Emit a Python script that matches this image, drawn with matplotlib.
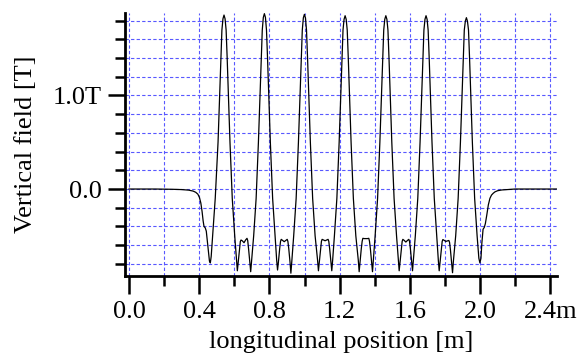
"""Wiggler vertical field profile along the beam axis."""

import matplotlib

matplotlib.use("Agg")
import matplotlib.pyplot as plt  # noqa: E402
from matplotlib.ticker import FixedLocator, MultipleLocator  # noqa: E402

plt.rcParams["font.family"] = ["Liberation Serif", "DejaVu Serif"]

# entrance fringe field (m, T)
entry_x = [0.000, 0.150, 0.250, 0.300, 0.340, 0.365, 0.380, 0.392, 0.401, 0.409,
           0.416, 0.422, 0.427, 0.434, 0.440, 0.446, 0.452, 0.458, 0.463, 0.468,
           0.474, 0.480]
entry_b = [0.0, 0.0, -0.003, -0.006, -0.012, -0.022, -0.035, -0.055, -0.09, -0.15,
           -0.24, -0.34, -0.40, -0.415, -0.45, -0.56, -0.68, -0.77, -0.79, -0.72,
           -0.56, -0.40]

# periodic core: 7 positive poles, 6 split negative poles
core_x = [
    0.491, 0.507, 0.516, 0.523, 0.529, 0.535, 0.541, 0.547, 0.553, 0.559, 0.566, 0.575, 0.588, 0.602,
    0.612, 0.617, 0.622, 0.629, 0.634, 0.638, 0.646, 0.655, 0.664, 0.672, 0.676, 0.681, 0.688, 0.693, 0.698,
    0.710, 0.724, 0.737, 0.746, 0.753, 0.759, 0.765, 0.771, 0.777, 0.783, 0.789, 0.796, 0.805, 0.818, 0.832,
    0.841, 0.846, 0.851, 0.858, 0.863, 0.867, 0.875, 0.884, 0.893, 0.901, 0.905, 0.910, 0.917, 0.922, 0.927,
    0.938, 0.952, 0.965, 0.974, 0.981, 0.987, 0.993, 0.999, 1.005, 1.011, 1.017, 1.024, 1.033, 1.046, 1.060,
    1.074, 1.079, 1.084, 1.091, 1.096, 1.100, 1.108, 1.117, 1.126, 1.134, 1.138, 1.143, 1.150, 1.155, 1.160,
    1.170, 1.184, 1.197, 1.206, 1.213, 1.219, 1.225, 1.231, 1.237, 1.243, 1.249, 1.256, 1.265, 1.278, 1.292,
    1.306, 1.311, 1.316, 1.323, 1.328, 1.332, 1.340, 1.349, 1.358, 1.366, 1.370, 1.375, 1.382, 1.387, 1.392,
    1.402, 1.416, 1.429, 1.438, 1.445, 1.451, 1.457, 1.463, 1.469, 1.475, 1.481, 1.488, 1.497, 1.510, 1.524,
    1.534, 1.539, 1.544, 1.551, 1.556, 1.560, 1.568, 1.577, 1.586, 1.594, 1.598, 1.603, 1.610, 1.615, 1.620,
    1.631, 1.645, 1.658, 1.667, 1.674, 1.680, 1.686, 1.692, 1.698, 1.704, 1.710, 1.717, 1.726, 1.739, 1.753,
    1.762, 1.767, 1.772, 1.779, 1.784, 1.788, 1.796, 1.805, 1.814, 1.822, 1.826, 1.831, 1.838, 1.843, 1.848,
    1.861, 1.875, 1.888, 1.897, 1.904, 1.910, 1.916, 1.922, 1.928, 1.934, 1.940, 1.947, 1.956, 1.969, 1.983,
]
core_b = [
    -0.10, 0.50, 1.00, 1.40, 1.70, 1.82, 1.86, 1.82, 1.70, 1.40, 1.00, 0.50, -0.10, -0.50,
    -0.76, -0.874, -0.78, -0.64, -0.56, -0.545, -0.555, -0.574, -0.545, -0.527, -0.55, -0.64, -0.78, -0.884, -0.77,
    -0.50, -0.10, 0.50, 1.00, 1.40, 1.70, 1.835, 1.875, 1.835, 1.70, 1.40, 1.00, 0.50, -0.10, -0.50,
    -0.76, -0.866, -0.78, -0.64, -0.56, -0.538, -0.55, -0.563, -0.55, -0.538, -0.56, -0.64, -0.78, -0.90, -0.78,
    -0.50, -0.10, 0.50, 1.00, 1.40, 1.70, 1.83, 1.868, 1.83, 1.70, 1.40, 1.00, 0.50, -0.10, -0.50,
    -0.76, -0.874, -0.78, -0.64, -0.56, -0.538, -0.545, -0.553, -0.545, -0.538, -0.56, -0.64, -0.78, -0.874, -0.76,
    -0.50, -0.10, 0.50, 1.00, 1.40, 1.70, 1.815, 1.853, 1.815, 1.70, 1.40, 1.00, 0.50, -0.10, -0.50,
    -0.76, -0.884, -0.78, -0.64, -0.56, -0.527, -0.53, -0.53, -0.53, -0.527, -0.56, -0.64, -0.78, -0.884, -0.76,
    -0.50, -0.10, 0.50, 1.00, 1.40, 1.70, 1.815, 1.853, 1.815, 1.70, 1.40, 1.00, 0.50, -0.10, -0.50,
    -0.76, -0.874, -0.78, -0.64, -0.56, -0.538, -0.55, -0.567, -0.55, -0.538, -0.56, -0.64, -0.78, -0.874, -0.76,
    -0.50, -0.10, 0.50, 1.00, 1.40, 1.70, 1.815, 1.853, 1.815, 1.70, 1.40, 1.00, 0.50, -0.10, -0.50,
    -0.76, -0.874, -0.78, -0.64, -0.56, -0.54, -0.55, -0.56, -0.555, -0.55, -0.57, -0.65, -0.79, -0.895, -0.77,
    -0.50, -0.10, 0.50, 1.00, 1.40, 1.70, 1.795, 1.832, 1.795, 1.70, 1.40, 1.00, 0.50, -0.10, -0.50,
]

# exit fringe field
exit_x = [1.993, 1.999, 2.005, 2.010, 2.017, 2.024, 2.030, 2.038, 2.047, 2.056,
          2.065, 2.075, 2.085, 2.100, 2.124, 2.160, 2.200, 2.300, 2.437]
exit_b = [-0.74, -0.79, -0.74, -0.58, -0.43, -0.41, -0.37, -0.28, -0.17, -0.10,
          -0.065, -0.045, -0.03, -0.018, -0.01, -0.005, 0.0, 0.0, 0.0]

x_major = [0.0, 0.4, 0.8, 1.2, 1.6, 2.0, 2.4]
x_labels = ["0.0", "0.4", "0.8", "1.2", "1.6", "2.0", "2.4m"]
y_major = [0.0, 1.0]
y_labels = ["0.0", "1.0T"]

pos = entry_x + core_x + exit_x
field = entry_b + core_b + exit_b

fig = plt.figure(figsize=(5.78, 3.6), dpi=100)
ax = fig.add_axes([0.2163, 0.2333, 0.747, 0.7306])
ax.plot(pos, field, color="black", lw=0.9, zorder=3)

ax.set_xlim(-0.023, 2.437)
ax.set_ylim(-0.93, 1.882)

ax.xaxis.set_major_locator(FixedLocator(x_major))
ax.set_xticklabels(x_labels)
ax.xaxis.set_minor_locator(MultipleLocator(0.2))
ax.yaxis.set_major_locator(FixedLocator(y_major))
ax.set_yticklabels(y_labels)
ax.yaxis.set_minor_locator(FixedLocator([-0.8, -0.6, -0.4, -0.2, 0.2, 0.4, 0.6, 0.8,
                                         1.2, 1.4, 1.6, 1.8]))

for side in ("top", "right"):
    ax.spines[side].set_visible(False)
for side in ("left", "bottom"):
    ax.spines[side].set_linewidth(2.0)

ax.tick_params(axis="both", which="major", direction="out", width=1.8,
               labelsize=19, pad=5)
ax.tick_params(axis="both", which="minor", direction="out", width=1.8)
ax.tick_params(axis="x", which="major", length=13)
ax.tick_params(axis="x", which="minor", length=7)
ax.tick_params(axis="y", which="major", length=12)
ax.tick_params(axis="y", which="minor", length=7)

ax.grid(True, which="both", color="#5858ff", lw=0.8, ls=(0, (3, 2)), zorder=0)

ax.set_xlabel("longitudinal position [m]", fontsize=19, labelpad=6)
ax.set_ylabel("Vertical field [T]", fontsize=19, labelpad=11)

fig.savefig("out.png", dpi=100)
plt.close(fig)
